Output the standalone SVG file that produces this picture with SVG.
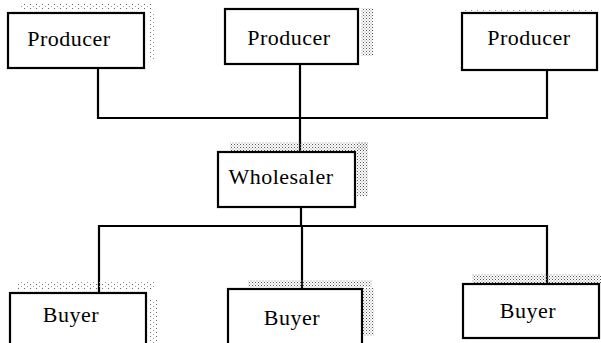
<svg xmlns="http://www.w3.org/2000/svg" width="601" height="343" viewBox="0 0 601 343">
<defs>
<pattern id="dots" width="3" height="3" patternUnits="userSpaceOnUse">
<rect x="0" y="0" width="1" height="1" fill="#555"/>
<rect x="1.5" y="1.5" width="1" height="1" fill="#888"/>
</pattern>
<pattern id="sparse" width="6" height="4" patternUnits="userSpaceOnUse">
<rect x="0" y="0" width="1" height="1" fill="#666"/>
<rect x="3" y="2" width="1" height="1" fill="#999"/>
</pattern>
</defs>
<style>
.box{fill:#fff;stroke:#000;stroke-width:2.2}
.shade{fill:url(#dots)}
.sparse{fill:url(#sparse)}
.lbl{font-family:"Liberation Serif","Times New Roman",serif;font-size:22px;fill:#000;text-anchor:middle;letter-spacing:0.5px}
.conn{fill:none;stroke:#000;stroke-width:2.2}
</style>
<rect width="601" height="343" fill="#fff"/>
<g id="connectors">
<path class="conn" d="M98 69 V118 H547 V70"/>
<path class="conn" d="M300 64 V152"/>
<path class="conn" d="M301 207 V227"/>
<path class="conn" d="M99 293 V226 H547 V284"/>
<path class="conn" d="M302 227 V289"/>
</g>
<g id="producer1">
<rect class="sparse" x="20" y="4" width="132" height="5"/>
<rect class="sparse" x="150" y="12" width="4" height="48"/>
<rect class="box" x="8" y="13" width="136" height="55"/>
<text class="lbl" x="69" y="46">Producer</text>
</g>
<g id="producer2">
<rect class="shade" x="361" y="8" width="12" height="48"/>
<rect class="box" x="225" y="9" width="133" height="55"/>
<text class="lbl" x="289" y="45">Producer</text>
</g>
<g id="producer3">
<rect class="sparse" x="462" y="9" width="130" height="4"/>
<rect class="box" x="462" y="13" width="135" height="57"/>
<text class="lbl" x="529" y="45">Producer</text>
</g>
<g id="wholesaler">
<rect class="shade" x="230" y="142" width="138" height="9"/>
<rect class="shade" x="357" y="142" width="11" height="54"/>
<rect class="box" x="218" y="152" width="137" height="55"/>
<text class="lbl" x="281" y="184">Wholesaler</text>
</g>
<g id="buyer1">
<rect class="sparse" x="18" y="282" width="136" height="8"/>
<rect class="sparse" x="148" y="300" width="9" height="43"/>
<rect class="box" x="10" y="293" width="136" height="55"/>
<text class="lbl" x="71" y="322">Buyer</text>
</g>
<g id="buyer2">
<rect class="shade" x="248" y="280" width="124" height="7"/>
<rect class="shade" x="362" y="288" width="12" height="48"/>
<rect class="box" x="228" y="289" width="134" height="60"/>
<text class="lbl" x="292" y="325">Buyer</text>
</g>
<g id="buyer3">
<rect class="shade" x="472" y="274" width="129" height="9"/>
<rect class="box" x="463" y="284" width="136" height="54"/>
<text class="lbl" x="528" y="318">Buyer</text>
</g>
</svg>
